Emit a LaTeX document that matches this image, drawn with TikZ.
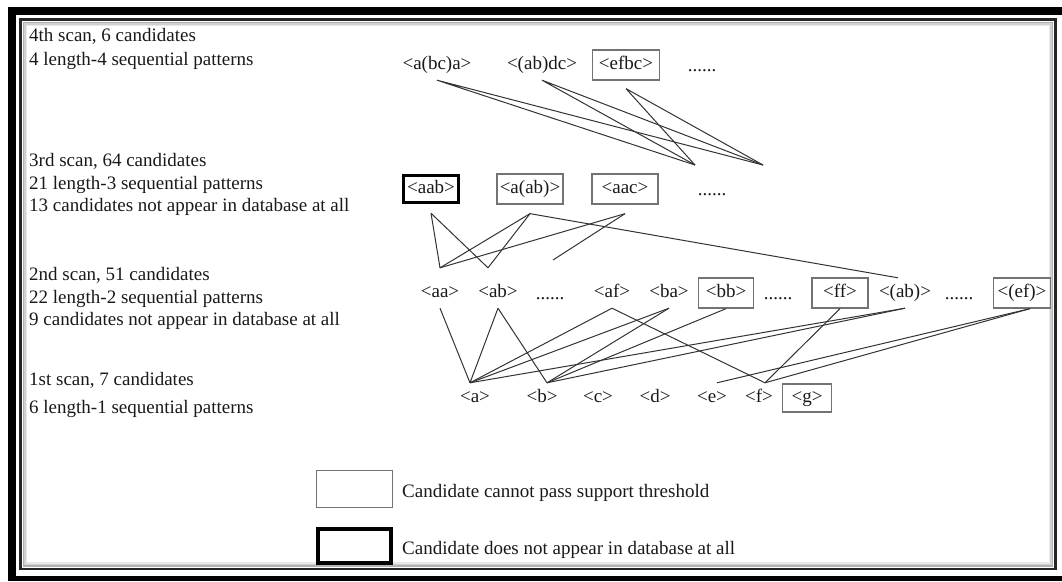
\documentclass[tikz,border=0pt]{standalone}
\usepackage{fontspec}
\setmainfont{Liberation Serif}
\begin{document}
\begin{tikzpicture}[x=1pt, y=-1pt,
    font=\fontsize{19}{23}\selectfont,
    cand/.style={inner sep=0pt, minimum height=30pt, text height=13pt, text depth=4pt, text=black!90},
    cbox/.style={cand, draw=black!55, line width=1.3pt},
    nobox/.style={cand, draw=black, line width=3.5pt},
    link/.style={black!80, line width=1pt},
    scan/.style={anchor=base west, inner sep=0pt, text=black!90}]
    \useasboundingbox (0,0) rectangle (1062,581);
    % ---- frame ----
    \fill[black] (8,7) rectangle (1062,15);
    \fill[black] (8,7) rectangle (16,581);
    \fill[black] (8,576) rectangle (1062,581);
    \foreach \d/\c in {3/30, 4.5/18, 6/9} {
        \draw[black!\c, line width=1.5pt] (20.5+\d,19.5+\d) rectangle (1055.5-\d,569-\d);
    }
    \draw[black!85, line width=2.5pt] (20.5,19.5) rectangle (1055.5,569);
    % ---- scan descriptions ----
    \foreach \ty/\txt [count=\i] in {41/{4th scan, 6 candidates}, 65/{4 length-4 sequential patterns},
            166/{3rd scan, 64 candidates}, 189/{21 length-3 sequential patterns},
            211/{13 candidates not appear in database at all},
            280/{2nd scan, 51 candidates}, 303/{22 length-2 sequential patterns},
            325/{9 candidates not appear in database at all},
            385/{1st scan, 7 candidates}, 413/{6 length-1 sequential patterns}} {
        \node[scan] (scan\i) at (29,\ty) {\txt};
    }
    % ---- 4th scan ----
    \node[cand] (abca) at (437,65) {<a(bc)a>};
    \node[cand] (abdc) at (542,65) {<(ab)dc>};
    \node[cbox, minimum width=67pt] (efbc) at (626,65) {<efbc>};
    \node[cand] (dots4) at (702,67) {......};
    \coordinate (p1) at (695,165);
    \coordinate (p2) at (763,165);
    % ---- 3rd scan ----
    \node[nobox, minimum width=55pt, minimum height=27pt] (aab) at (431,189) {<aab>};
    \node[cbox, minimum width=66pt] (aabb) at (530,189) {<a(ab)>};
    \node[cbox, minimum width=66pt] (aac) at (625,189) {<aac>};
    \node[cand] (dots3) at (712,191) {......};
    \coordinate (p3) at (553,260);
    % ---- 2nd scan ----
    \node[cand] (aa) at (440,293) {<aa>};
    \node[cand] (ab) at (498,293) {<ab>};
    \node[cand] (dots2a) at (550,295) {......};
    \node[cand] (af) at (612,293) {<af>};
    \node[cand] (ba) at (669,293) {<ba>};
    \node[cbox, minimum width=55pt] (bb) at (726,293) {<bb>};
    \node[cand] (dots2b) at (778,295) {......};
    \node[cbox, minimum width=56pt] (ff) at (840,293) {<ff>};
    \node[cand] (pab) at (905,293) {<(ab)>};
    \node[cand] (dots2c) at (959,295) {......};
    \node[cbox, minimum width=57pt] (pef) at (1022,293) {<(ef)>};
    % ---- 1st scan ----
    \foreach \n/\px in {a/475, b/542, c/598, d/655, e/712, f/759} {
        \node[cand] (\n) at (\px,398) {<\n>};
    }
    \node[cbox, minimum width=49pt, minimum height=28pt] (g) at (807,398) {<g>};
    % ---- links 4th -> 3rd ----
    \foreach \s in {abca, abdc} {
        \draw[link] (\s.south) -- (p1) (\s.south) -- (p2);
    }
    \draw[link] ([yshift=-8pt]efbc.south) -- (p1) ([yshift=-8pt]efbc.south) -- (p2);
    % ---- links 3rd -> 2nd ----
    \coordinate (aa-up) at ([yshift=10pt]aa.north);
    \coordinate (ab-up) at ([xshift=-10pt,yshift=10pt]ab.north);
    \foreach \s/\t in {aab/aa-up, aab/ab-up, aabb/aa-up, aabb/ab-up, aac/aa-up} {
        \draw[link] ([yshift=-9pt]\s.south) -- (\t);
    }
    \draw[link] ([yshift=-9pt]aabb.south) -- ([xshift=-7pt]pab.north);
    \draw[link] ([yshift=-9pt]aac.south) -- (p3);
    % ---- links 2nd -> 1st ----
    \foreach \n/\dx in {a/-5, b/5, e/5, f/6} {
        \coordinate (\n-in) at ([xshift=\dx pt]\n.north);
    }
    \coordinate (pef-out) at ([xshift=8pt]pef.south);
    \foreach \s/\t in {aa.south/a, ab.south/a, ab.south/b, af.south/a, af.south/f, ba.south/a,
            ba.south/b, bb.south/b, ff.south/f, pab.south/a, pab.south/b, pef-out/e, pef-out/f} {
        \draw[link] (\s) -- (\t-in);
    }
    % ---- legend ----
    \node[cbox, minimum width=76pt, minimum height=37pt] (key1) at (354.5,489) {};
    \node[cand, anchor=west] (key1txt) at (402,493) {Candidate cannot pass support threshold};
    \node[nobox, minimum width=73pt, minimum height=34pt] (key2) at (354.5,546) {};
    \node[cand, anchor=west] (key2txt) at (402,550) {Candidate does not appear in database at all};
\end{tikzpicture}
\end{document}
